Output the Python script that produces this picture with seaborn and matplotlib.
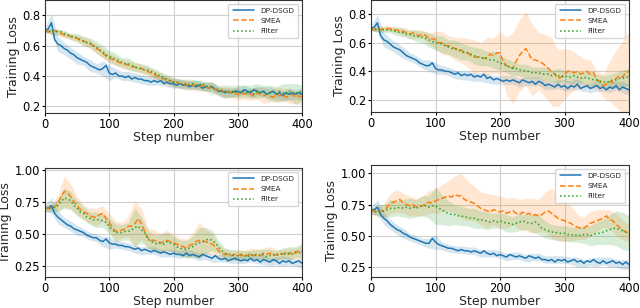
import matplotlib
matplotlib.use("Agg")
import matplotlib.pyplot as plt
import seaborn as sns

# x axis: training step, every 5 steps
steps = list(range(0, 401, 5))
band_steps = steps[::2]

# ---- panel 1 (top left) ----
p1_dp = [0.70, 0.71, 0.75, 0.64, 0.61, 0.60, 0.58, 0.57, 0.55, 0.54, 0.52, 0.51, 0.50, 0.49, 0.47, 0.46, 0.45,
         0.44, 0.45, 0.47, 0.42, 0.41, 0.42, 0.40, 0.40, 0.39, 0.40, 0.38, 0.39, 0.38, 0.38, 0.37, 0.37, 0.36,
         0.37, 0.36, 0.37, 0.35, 0.36, 0.35, 0.35, 0.34, 0.35, 0.34, 0.34, 0.33, 0.34, 0.33, 0.34, 0.32, 0.33,
         0.32, 0.33, 0.31, 0.30, 0.30, 0.29, 0.30, 0.29, 0.30, 0.30, 0.29, 0.31, 0.30, 0.29, 0.31, 0.30, 0.29,
         0.30, 0.28, 0.29, 0.30, 0.28, 0.29, 0.27, 0.29, 0.28, 0.29, 0.28, 0.29, 0.28]
p1_smea = [0.70, 0.69, 0.69, 0.70, 0.69, 0.68, 0.67, 0.67, 0.66, 0.65, 0.65, 0.63, 0.63, 0.62, 0.61, 0.60, 0.58,
           0.57, 0.55, 0.53, 0.52, 0.51, 0.50, 0.49, 0.48, 0.48, 0.47, 0.46, 0.46, 0.45, 0.45, 0.44, 0.43, 0.42,
           0.41, 0.40, 0.39, 0.38, 0.37, 0.37, 0.36, 0.36, 0.35, 0.35, 0.34, 0.35, 0.34, 0.34, 0.33, 0.34, 0.33,
           0.32, 0.33, 0.31, 0.30, 0.31, 0.29, 0.30, 0.29, 0.29, 0.28, 0.29, 0.28, 0.29, 0.28, 0.27, 0.29, 0.28,
           0.27, 0.28, 0.27, 0.26, 0.28, 0.27, 0.28, 0.26, 0.27, 0.28, 0.26, 0.27, 0.26]
p1_filter = [0.70, 0.70, 0.69, 0.70, 0.69, 0.69, 0.68, 0.67, 0.66, 0.66, 0.65, 0.64, 0.63, 0.62, 0.62, 0.60, 0.59,
             0.57, 0.56, 0.54, 0.53, 0.52, 0.51, 0.50, 0.49, 0.48, 0.48, 0.47, 0.46, 0.45, 0.45, 0.44, 0.44, 0.43,
             0.42, 0.41, 0.40, 0.39, 0.38, 0.37, 0.36, 0.36, 0.35, 0.35, 0.35, 0.34, 0.35, 0.34, 0.34, 0.35, 0.33,
             0.34, 0.32, 0.32, 0.31, 0.30, 0.30, 0.29, 0.30, 0.29, 0.30, 0.29, 0.30, 0.29, 0.30, 0.28, 0.30, 0.29,
             0.30, 0.28, 0.29, 0.30, 0.28, 0.30, 0.29, 0.28, 0.30, 0.29, 0.28, 0.30, 0.29]
p1_dp_sd = [0.02, 0.06, 0.05, 0.04, 0.04, 0.04, 0.03, 0.04, 0.03, 0.05, 0.05, 0.03, 0.03, 0.03, 0.03, 0.03, 0.03,
            0.03, 0.03, 0.03, 0.03, 0.03, 0.03, 0.03, 0.03, 0.03, 0.03, 0.03, 0.03, 0.03, 0.03, 0.03, 0.03, 0.03,
            0.03, 0.04, 0.03, 0.03, 0.04, 0.03, 0.04]
p1_smea_sd = [0.01, 0.02, 0.02, 0.02, 0.02, 0.02, 0.03, 0.03, 0.03, 0.03, 0.03, 0.03, 0.03, 0.03, 0.03, 0.03, 0.03,
              0.03, 0.03, 0.03, 0.03, 0.03, 0.03, 0.03, 0.03, 0.03, 0.03, 0.03, 0.04, 0.03, 0.04, 0.03, 0.04, 0.04,
              0.05, 0.04, 0.05, 0.04, 0.05, 0.04, 0.05]
p1_filter_sd = [0.01, 0.02, 0.02, 0.02, 0.02, 0.03, 0.03, 0.03, 0.04, 0.04, 0.04, 0.04, 0.03, 0.04, 0.03, 0.03, 0.03,
                0.03, 0.03, 0.03, 0.03, 0.03, 0.03, 0.03, 0.03, 0.03, 0.04, 0.03, 0.04, 0.04, 0.04, 0.04, 0.04, 0.05,
                0.04, 0.05, 0.05, 0.06, 0.05, 0.07, 0.05]

# ---- panel 2 (top right) ----
p2_dp = [0.70, 0.71, 0.74, 0.65, 0.62, 0.61, 0.59, 0.57, 0.56, 0.55, 0.53, 0.51, 0.50, 0.49, 0.48, 0.46, 0.45,
         0.44, 0.44, 0.46, 0.42, 0.41, 0.41, 0.40, 0.40, 0.39, 0.38, 0.39, 0.37, 0.38, 0.37, 0.38, 0.36, 0.37,
         0.36, 0.38, 0.35, 0.36, 0.34, 0.35, 0.34, 0.33, 0.34, 0.33, 0.34, 0.33, 0.32, 0.34, 0.33, 0.32, 0.33,
         0.31, 0.33, 0.32, 0.30, 0.31, 0.30, 0.29, 0.31, 0.29, 0.30, 0.28, 0.30, 0.29, 0.31, 0.28, 0.29, 0.30,
         0.28, 0.29, 0.30, 0.28, 0.29, 0.27, 0.29, 0.28, 0.30, 0.27, 0.29, 0.28, 0.27]
p2_smea = [0.70, 0.69, 0.70, 0.69, 0.70, 0.70, 0.70, 0.69, 0.69, 0.68, 0.68, 0.67, 0.66, 0.67, 0.66, 0.65, 0.66,
           0.65, 0.63, 0.63, 0.62, 0.60, 0.60, 0.58, 0.58, 0.57, 0.56, 0.55, 0.55, 0.53, 0.53, 0.51, 0.50, 0.50,
           0.50, 0.49, 0.50, 0.52, 0.51, 0.53, 0.53, 0.47, 0.44, 0.43, 0.42, 0.47, 0.51, 0.54, 0.56, 0.52, 0.48,
           0.48, 0.47, 0.46, 0.44, 0.42, 0.40, 0.38, 0.35, 0.36, 0.38, 0.40, 0.40, 0.39, 0.40, 0.38, 0.39, 0.40,
           0.38, 0.39, 0.34, 0.33, 0.30, 0.31, 0.33, 0.32, 0.35, 0.37, 0.36, 0.39, 0.40]
p2_filter = [0.70, 0.70, 0.69, 0.70, 0.69, 0.69, 0.69, 0.68, 0.68, 0.67, 0.67, 0.66, 0.66, 0.65, 0.65, 0.64, 0.64,
             0.63, 0.62, 0.61, 0.60, 0.60, 0.59, 0.58, 0.57, 0.56, 0.56, 0.55, 0.54, 0.53, 0.53, 0.52, 0.51, 0.50,
             0.50, 0.49, 0.49, 0.48, 0.48, 0.47, 0.46, 0.45, 0.44, 0.43, 0.42, 0.42, 0.41, 0.41, 0.40, 0.40, 0.39,
             0.39, 0.39, 0.38, 0.38, 0.38, 0.37, 0.38, 0.37, 0.36, 0.37, 0.36, 0.36, 0.37, 0.36, 0.35, 0.36, 0.35,
             0.35, 0.34, 0.34, 0.33, 0.33, 0.32, 0.33, 0.34, 0.34, 0.35, 0.35, 0.36, 0.36]
p2_dp_sd = [0.02, 0.06, 0.05, 0.04, 0.04, 0.04, 0.03, 0.03, 0.03, 0.04, 0.04, 0.03, 0.03, 0.03, 0.03, 0.03, 0.03,
            0.03, 0.03, 0.03, 0.03, 0.03, 0.03, 0.03, 0.03, 0.03, 0.03, 0.03, 0.03, 0.03, 0.04, 0.03, 0.04, 0.03,
            0.03, 0.04, 0.03, 0.04, 0.03, 0.04, 0.04]
p2_smea_sd = [0.01, 0.02, 0.02, 0.02, 0.02, 0.03, 0.03, 0.03, 0.03, 0.04, 0.06, 0.08, 0.07, 0.08, 0.09, 0.10, 0.12,
              0.10, 0.14, 0.12, 0.15, 0.20, 0.25, 0.25, 0.26, 0.25, 0.20, 0.22, 0.24, 0.20, 0.18, 0.15, 0.12, 0.10,
              0.10, 0.06, 0.08, 0.14, 0.20, 0.25, 0.28]
p2_filter_sd = [0.01, 0.02, 0.02, 0.02, 0.03, 0.03, 0.03, 0.04, 0.04, 0.05, 0.05, 0.06, 0.05, 0.06, 0.06, 0.05, 0.06,
                0.06, 0.05, 0.06, 0.05, 0.05, 0.05, 0.04, 0.05, 0.04, 0.04, 0.05, 0.04, 0.05, 0.04, 0.05, 0.04, 0.04,
                0.05, 0.04, 0.04, 0.05, 0.05, 0.06, 0.06]

# ---- panel 3 (bottom left) ----
p3_dp = [0.70, 0.70, 0.72, 0.66, 0.63, 0.61, 0.59, 0.57, 0.56, 0.54, 0.53, 0.52, 0.51, 0.49, 0.48, 0.47, 0.47,
         0.45, 0.44, 0.46, 0.43, 0.42, 0.42, 0.41, 0.41, 0.40, 0.40, 0.39, 0.38, 0.39, 0.37, 0.38, 0.37, 0.36,
         0.37, 0.36, 0.35, 0.36, 0.35, 0.34, 0.35, 0.34, 0.34, 0.33, 0.35, 0.33, 0.34, 0.33, 0.32, 0.34, 0.33,
         0.32, 0.31, 0.33, 0.31, 0.30, 0.31, 0.29, 0.30, 0.31, 0.30, 0.29, 0.30, 0.29, 0.31, 0.29, 0.30, 0.28,
         0.30, 0.29, 0.28, 0.30, 0.29, 0.27, 0.29, 0.28, 0.29, 0.27, 0.28, 0.29, 0.27]
p3_smea = [0.70, 0.70, 0.70, 0.71, 0.74, 0.79, 0.83, 0.82, 0.79, 0.75, 0.72, 0.69, 0.67, 0.66, 0.64, 0.63, 0.63,
           0.65, 0.66, 0.62, 0.59, 0.55, 0.52, 0.52, 0.53, 0.54, 0.56, 0.56, 0.58, 0.62, 0.58, 0.52, 0.47, 0.45,
           0.45, 0.44, 0.43, 0.44, 0.45, 0.44, 0.43, 0.42, 0.41, 0.40, 0.39, 0.41, 0.42, 0.44, 0.45, 0.44, 0.44,
           0.43, 0.42, 0.40, 0.37, 0.35, 0.34, 0.34, 0.33, 0.34, 0.34, 0.33, 0.34, 0.33, 0.35, 0.33, 0.34, 0.33,
           0.35, 0.34, 0.35, 0.33, 0.34, 0.35, 0.34, 0.36, 0.34, 0.36, 0.35, 0.37, 0.36]
p3_filter = [0.70, 0.70, 0.70, 0.71, 0.72, 0.75, 0.78, 0.77, 0.76, 0.72, 0.70, 0.67, 0.66, 0.63, 0.62, 0.61, 0.61,
             0.61, 0.60, 0.59, 0.56, 0.53, 0.51, 0.51, 0.51, 0.52, 0.52, 0.53, 0.55, 0.56, 0.53, 0.51, 0.46, 0.44,
             0.43, 0.42, 0.43, 0.42, 0.44, 0.43, 0.42, 0.40, 0.39, 0.38, 0.38, 0.39, 0.40, 0.42, 0.43, 0.44, 0.45,
             0.46, 0.45, 0.43, 0.40, 0.37, 0.35, 0.34, 0.34, 0.33, 0.33, 0.34, 0.33, 0.32, 0.34, 0.33, 0.34, 0.33,
             0.34, 0.32, 0.33, 0.34, 0.33, 0.34, 0.35, 0.34, 0.35, 0.34, 0.36, 0.35, 0.37]
p3_dp_sd = [0.03, 0.06, 0.05, 0.04, 0.04, 0.04, 0.03, 0.03, 0.03, 0.04, 0.05, 0.03, 0.03, 0.03, 0.03, 0.03, 0.03,
            0.03, 0.03, 0.03, 0.03, 0.03, 0.03, 0.03, 0.03, 0.03, 0.03, 0.03, 0.03, 0.03, 0.03, 0.03, 0.03, 0.03,
            0.04, 0.03, 0.03, 0.04, 0.03, 0.03, 0.04]
p3_smea_sd = [0.02, 0.03, 0.06, 0.12, 0.10, 0.07, 0.06, 0.06, 0.07, 0.06, 0.07, 0.08, 0.06, 0.08, 0.18, 0.12, 0.08,
              0.08, 0.07, 0.08, 0.07, 0.06, 0.07, 0.09, 0.14, 0.10, 0.08, 0.05, 0.04, 0.04, 0.04, 0.03, 0.04, 0.04,
              0.04, 0.05, 0.04, 0.04, 0.05, 0.04, 0.05]
p3_filter_sd = [0.02, 0.03, 0.05, 0.08, 0.07, 0.06, 0.05, 0.05, 0.06, 0.05, 0.06, 0.07, 0.06, 0.07, 0.15, 0.10, 0.07,
                0.06, 0.07, 0.07, 0.06, 0.06, 0.07, 0.08, 0.12, 0.10, 0.08, 0.05, 0.04, 0.04, 0.04, 0.04, 0.03, 0.04,
                0.04, 0.05, 0.04, 0.04, 0.05, 0.04, 0.06]

# ---- panel 4 (bottom right) ----
p4_dp = [0.70, 0.71, 0.73, 0.67, 0.64, 0.62, 0.59, 0.57, 0.55, 0.54, 0.52, 0.51, 0.49, 0.48, 0.47, 0.46, 0.45,
         0.44, 0.44, 0.48, 0.45, 0.43, 0.42, 0.41, 0.40, 0.40, 0.39, 0.38, 0.39, 0.38, 0.38, 0.37, 0.38, 0.37,
         0.36, 0.38, 0.36, 0.35, 0.36, 0.34, 0.35, 0.34, 0.33, 0.35, 0.34, 0.33, 0.34, 0.33, 0.32, 0.34, 0.33,
         0.32, 0.33, 0.31, 0.31, 0.30, 0.31, 0.29, 0.31, 0.30, 0.31, 0.29, 0.30, 0.31, 0.29, 0.30, 0.28, 0.30,
         0.29, 0.31, 0.29, 0.28, 0.30, 0.28, 0.29, 0.30, 0.28, 0.29, 0.27, 0.29, 0.27]
p4_smea = [0.70, 0.70, 0.69, 0.70, 0.70, 0.73, 0.76, 0.77, 0.78, 0.79, 0.76, 0.75, 0.74, 0.75, 0.73, 0.74, 0.74,
           0.76, 0.77, 0.76, 0.78, 0.79, 0.80, 0.81, 0.82, 0.81, 0.83, 0.82, 0.82, 0.79, 0.78, 0.77, 0.76, 0.74,
           0.72, 0.71, 0.70, 0.69, 0.71, 0.70, 0.69, 0.70, 0.68, 0.69, 0.70, 0.68, 0.67, 0.69, 0.67, 0.68, 0.66,
           0.67, 0.66, 0.67, 0.69, 0.70, 0.68, 0.66, 0.64, 0.63, 0.62, 0.61, 0.60, 0.58, 0.57, 0.56, 0.56, 0.58,
           0.60, 0.61, 0.62, 0.63, 0.64, 0.66, 0.63, 0.62, 0.59, 0.57, 0.55, 0.53, 0.52]
p4_filter = [0.70, 0.69, 0.70, 0.69, 0.70, 0.71, 0.72, 0.72, 0.72, 0.73, 0.72, 0.73, 0.72, 0.73, 0.72, 0.73, 0.74,
             0.74, 0.73, 0.74, 0.74, 0.72, 0.71, 0.69, 0.68, 0.67, 0.67, 0.66, 0.66, 0.65, 0.65, 0.64, 0.64, 0.63,
             0.63, 0.62, 0.62, 0.61, 0.62, 0.61, 0.62, 0.61, 0.60, 0.60, 0.59, 0.60, 0.61, 0.62, 0.61, 0.60, 0.60,
             0.61, 0.59, 0.56, 0.55, 0.54, 0.53, 0.53, 0.52, 0.52, 0.52, 0.51, 0.51, 0.50, 0.51, 0.50, 0.51, 0.51,
             0.50, 0.51, 0.52, 0.52, 0.53, 0.54, 0.55, 0.56, 0.56, 0.55, 0.54, 0.53, 0.52]
p4_dp_sd = [0.03, 0.06, 0.05, 0.04, 0.04, 0.04, 0.03, 0.03, 0.03, 0.04, 0.06, 0.03, 0.03, 0.03, 0.03, 0.03, 0.03,
            0.03, 0.03, 0.03, 0.03, 0.03, 0.03, 0.03, 0.03, 0.03, 0.03, 0.03, 0.03, 0.03, 0.03, 0.03, 0.04, 0.03,
            0.03, 0.04, 0.03, 0.04, 0.03, 0.04, 0.04]
p4_smea_sd = [0.02, 0.04, 0.06, 0.08, 0.09, 0.08, 0.08, 0.07, 0.08, 0.09, 0.10, 0.11, 0.12, 0.15, 0.18, 0.16, 0.14,
              0.13, 0.14, 0.12, 0.13, 0.12, 0.11, 0.12, 0.13, 0.14, 0.13, 0.16, 0.20, 0.18, 0.17, 0.14, 0.10, 0.09,
              0.10, 0.09, 0.07, 0.08, 0.09, 0.08, 0.07]
p4_filter_sd = [0.02, 0.04, 0.05, 0.07, 0.06, 0.07, 0.08, 0.07, 0.08, 0.09, 0.15, 0.12, 0.10, 0.08, 0.08, 0.07, 0.08,
                0.07, 0.07, 0.06, 0.06, 0.07, 0.06, 0.07, 0.06, 0.07, 0.08, 0.07, 0.06, 0.06, 0.06, 0.06, 0.06, 0.07,
                0.08, 0.09, 0.10, 0.12, 0.14, 0.15, 0.14]

panels = [
    (p1_dp, p1_smea, p1_filter, p1_dp_sd, p1_smea_sd, p1_filter_sd),
    (p2_dp, p2_smea, p2_filter, p2_dp_sd, p2_smea_sd, p2_filter_sd),
    (p3_dp, p3_smea, p3_filter, p3_dp_sd, p3_smea_sd, p3_filter_sd),
    (p4_dp, p4_smea, p4_filter, p4_dp_sd, p4_smea_sd, p4_filter_sd),
]
labels = ['DP-DSGD', 'SMEA', 'Filter']
colors = ['#1f77b4', '#ff7f0e', '#2ca02c']
styles = ['-', '--', ':']

ylims = [(0.157, 0.90), (0.115, 0.90), (0.164, 1.013), (0.17, 1.067)]
yticks = [[0.2, 0.4, 0.6, 0.8], [0.2, 0.4, 0.6, 0.8],
          [0.25, 0.5, 0.75, 1.0], [0.25, 0.5, 0.75, 1.0]]
ytick_fmt = ['{:.1f}', '{:.1f}', '{:.2f}', '{:.2f}']

# axes rectangles in figure fractions (left, bottom, width, height)
rects = [
    (45 / 640, 1 - 113 / 308, 257 / 640, 113 / 308),
    (371 / 640, 1 - 112 / 308, 258 / 640, 112 / 308),
    (45 / 640, 1 - 277 / 308, 257 / 640, 109 / 308),
    (371 / 640, 1 - 277 / 308, 258 / 640, 112 / 308),
]

sns.set_theme(style="ticks")
plt.rcParams['font.family'] = ['DejaVu Sans']

fig = plt.figure(figsize=(6.4, 3.08), dpi=100)

for k, series in enumerate(panels):
    ax = fig.add_axes(rects[k])
    means = series[:3]
    sds = series[3:]
    for j in range(3):
        band_mean = means[j][::2]
        lower = [m - s for m, s in zip(band_mean, sds[j])]
        upper = [m + s for m, s in zip(band_mean, sds[j])]
        ax.fill_between(band_steps, lower, upper, color=colors[j], alpha=0.18, linewidth=0)
    for j in range(3):
        sns.lineplot(x=steps, y=means[j], ax=ax, color=colors[j], linestyle=styles[j],
                     linewidth=1.1, label=labels[j])
    ax.set_xlim(0, 400)
    ax.set_ylim(*ylims[k])
    ax.set_xticks([0, 100, 200, 300, 400])
    ax.set_yticks(yticks[k])
    ax.set_yticklabels([ytick_fmt[k].format(v) for v in yticks[k]])
    ax.tick_params(labelsize=8.3, length=2.5, width=0.8, pad=1, colors='black')
    ax.grid(True, color='#d0d0d0', linewidth=0.8)
    for sp in ax.spines.values():
        sp.set_color('#333333')
        sp.set_linewidth(0.8)
    ax.set_xlabel('Step number', fontsize=9, labelpad=0)
    ax.set_ylabel('Training Loss', fontsize=9, labelpad=1.5)
    ax.legend(loc='upper right', fontsize=5.2, handlelength=3, borderpad=0.6,
              labelspacing=0.55, framealpha=0.8)

fig.savefig('out.png', dpi=100)
